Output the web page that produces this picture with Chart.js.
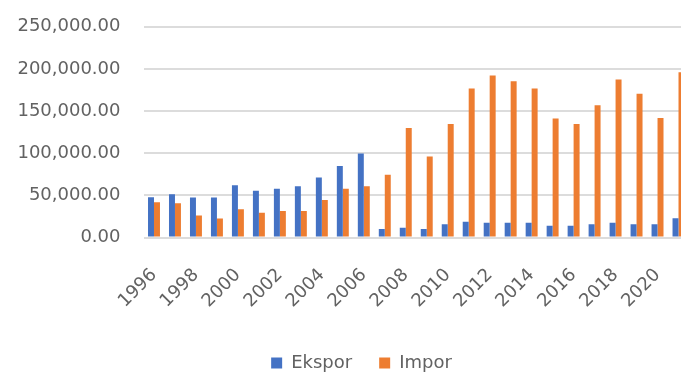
<!DOCTYPE html>
<html>
<head>
<meta charset="utf-8">
<script src="https://cdn.jsdelivr.net/npm/chart.js@4.4.1/dist/chart.umd.min.js"></script>
<style>
  html, body { margin: 0; padding: 0; background: #ffffff; overflow: hidden; width: 681px; height: 372px; }
  #wrap { position: relative; width: 692px; height: 372px; }
</style>
</head>
<body>
<div id="wrap"><canvas id="chart" width="692" height="372"></canvas></div>
<script>
// Export / import values per year
const years = ['1996','1997','1998','1999','2000','2001','2002','2003','2004','2005','2006','2007','2008',
               '2009','2010','2011','2012','2013','2014','2015','2016','2017','2018','2019','2020','2021'];
const ekspor = [47800, 51400, 47400, 47400, 62000, 55300, 57700, 60900, 71200, 84700, 99600, 10100, 11700,
                10100, 15700, 18800, 17600, 17600, 17600, 14000, 14000, 15700, 17600, 15700, 15700, 22800];
const impor  = [41900, 40700, 26000, 22400, 33600, 29500, 31500, 31500, 44600, 57700, 60700, 74400, 130000,
                96200, 134700, 176700, 192200, 185400, 176700, 141000, 134700, 156800, 187400, 170400, 141800, 196100];

// Axis labels
const yTickValues = [0, 50000, 100000, 150000, 200000, 250000];
const xTickLabels = ['1996','1998','2000','2002','2004','2006','2008','2010','2012','2014','2016','2018','2020'];

const TEXT = '#626262';
const GRID = '#dcdcdc';

// Moves the legend block after layout so it sits just under the rotated year labels
const legendShift = {
  id: 'legendShift',
  afterLayout(chart, args, opts) {
    const lg = chart.legend;
    if (!lg) return;
    lg.left += opts.dx; lg.right += opts.dx;
    lg.top += opts.dy; lg.bottom += opts.dy;
  }
};

Chart.defaults.font.family = "'DejaVu Sans', sans-serif";
Chart.defaults.font.size = 18;
Chart.defaults.color = TEXT;

new Chart(document.getElementById('chart'), {
  type: 'bar',
  data: {
    labels: years,
    datasets: [
      { label: 'Ekspor', data: ekspor, backgroundColor: '#4472C4', borderWidth: 0,
        categoryPercentage: 0.57, barPercentage: 1.0 },
      { label: 'Impor', data: impor, backgroundColor: '#ED7D31', borderWidth: 0,
        categoryPercentage: 0.57, barPercentage: 1.0 }
    ]
  },
  options: {
    responsive: false,
    animation: false,
    devicePixelRatio: 1,
    layout: { padding: { top: 26.7, right: 3, bottom: 0, left: 0 } },
    plugins: {
      legend: {
        position: 'bottom',
        labels: { boxWidth: 11, boxHeight: 11, padding: 27, color: TEXT, font: { size: 18 } }
      },
      legendShift: { dx: 17, dy: 10 },
      tooltip: { enabled: false }
    },
    scales: {
      x: {
        grid: { display: false, drawTicks: false },
        border: { display: false },
        ticks: {
          autoSkip: false,
          minRotation: 45,
          maxRotation: 45,
          padding: 27,
          color: TEXT,
          callback: function (value, index) {
            const lbl = years[index];
            return xTickLabels.includes(lbl) ? lbl : '';
          }
        },
        afterFit: function (scale) {
          scale.height = 79.5;
          scale.paddingLeft = 0;
          scale.paddingRight = 0;
        }
      },
      y: {
        min: yTickValues[0],
        max: yTickValues[yTickValues.length - 1],
        border: { display: false },
        grid: { color: GRID, lineWidth: 2, drawTicks: false },
        afterBuildTicks: function (scale) {
          scale.ticks = yTickValues.map(v => ({ value: v }));
        },
        ticks: {
          padding: 23,
          color: TEXT,
          callback: function (value) {
            return Number(value).toLocaleString('en-US', { minimumFractionDigits: 2, maximumFractionDigits: 2 });
          }
        },
        afterFit: function (scale) {
          scale.width = 143.5;
          scale.paddingTop = 0;
          scale.paddingBottom = 0;
        }
      }
    }
  },
  plugins: [legendShift]
});
</script>
</body>
</html>
